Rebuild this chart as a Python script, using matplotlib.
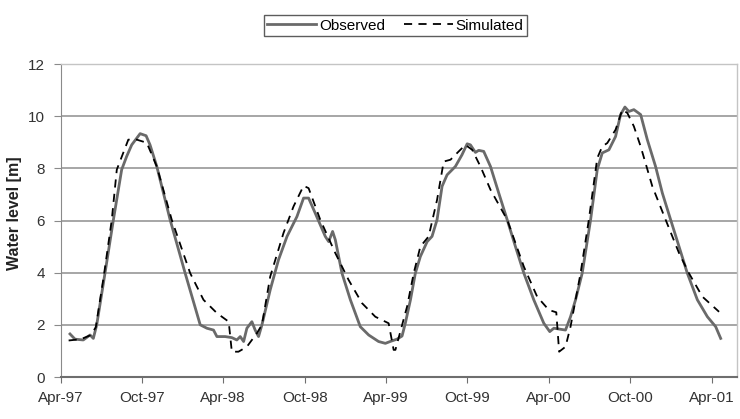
import numpy as np
import pandas as pd
import matplotlib
matplotlib.use("Agg")
import matplotlib.pyplot as plt

plt.rcParams['font.family'] = ['Liberation Sans', 'DejaVu Sans']

# months since Apr-97 and water level [m]
obs_month = [0.7, 1.07, 1.68, 2.18, 2.42, 2.67, 3.28, 3.9, 4.51, 4.88, 5.25, 5.87, 6.31, 6.6,
             7.1, 8.08, 9.19, 10.3, 10.79, 11.28, 11.53, 12.14, 12.63, 13.0, 13.25, 13.5,
             13.74, 14.11, 14.35, 14.6, 14.85, 15.46, 16.07, 16.7, 17.43, 17.92, 18.29, 18.78,
             19.52, 19.77, 20.06, 20.26, 20.75, 21.37, 22.1, 22.72, 23.45, 23.95, 24.3, 24.8,
             25.18, 25.42, 25.8, 26.16, 26.53, 27.03, 27.39, 27.76, 28.13, 28.5, 29.11, 29.6,
             29.98, 30.22, 30.59, 30.83, 31.2, 31.7, 32.31, 32.93, 33.54, 34.16, 34.89, 35.63,
             36.07, 36.37, 36.86, 37.23, 37.6, 37.97, 38.46, 39.08, 39.57, 39.94, 40.43, 40.92,
             41.29, 41.61, 41.9, 42.27, 42.77, 43.26, 43.87, 44.37, 44.98, 45.6, 46.21, 46.95,
             47.69, 48.3, 48.67]
obs_level = [1.65, 1.45, 1.42, 1.61, 1.48, 2.0, 3.98, 6.03, 7.95, 8.46, 8.9, 9.33, 9.25, 8.9,
             8.07, 6.03, 3.98, 2.0, 1.87, 1.8, 1.55, 1.55, 1.51, 1.42, 1.55, 1.36,
             1.87, 2.12, 1.8, 1.55, 2.0, 3.34, 4.49, 5.39, 6.15, 6.86, 6.86, 6.28,
             5.39, 5.19, 5.58, 5.26, 3.98, 2.96, 1.93, 1.61, 1.36, 1.29, 1.36, 1.45,
             1.57, 2.06, 2.96, 3.98, 4.62, 5.19, 5.39, 6.03, 7.31, 7.75, 8.07, 8.52,
             8.94, 8.9, 8.61, 8.69, 8.65, 8.07, 7.05, 6.03, 5.0, 3.98, 2.96, 2.06,
             1.74, 1.87, 1.83, 1.8, 2.31, 2.96, 3.98, 6.03, 7.95, 8.59, 8.71, 9.22,
             10.06, 10.35, 10.18, 10.25, 10.06, 9.1, 8.07, 7.05, 6.03, 5.0, 3.98, 2.96,
             2.31, 1.93, 1.48]

sim_month = [0.6, 1.5, 2.2, 2.6, 3.2, 3.78, 4.15, 5.0, 5.62, 6.36, 7.1, 8.2, 9.56, 10.54,
             11.53, 12.4, 12.63, 13.12, 13.74, 14.48, 14.85, 15.46, 16.44, 17.18, 17.92,
             18.29, 19.15, 20.26, 21.24, 22.23, 23.21, 24.19, 24.56, 24.69, 25.55, 26.04,
             26.53, 27.14, 27.76, 28.25, 28.75, 29.36, 29.85, 30.35, 30.96, 31.7, 32.93,
             34.16, 35.14, 36.0, 36.55, 36.76, 37.23, 37.6, 38.34, 38.95, 39.57, 39.94,
             40.31, 40.92, 41.42, 41.79, 42.27, 42.77, 43.63, 44.61, 45.6, 46.33, 47.32, 48.55]
sim_level = [1.4, 1.45, 1.6, 1.9, 3.9, 6.03, 7.95, 9.1, 9.1, 8.98, 8.07, 6.03, 3.98, 2.96,
             2.45, 2.12, 0.97, 0.97, 1.16, 1.68, 2.0, 3.85, 5.52, 6.54, 7.33,
             7.24, 6.03, 4.75, 3.72, 2.83, 2.31, 2.06, 1.04, 1.04, 2.7, 3.98,
             5.0, 5.39, 6.79, 8.26, 8.33, 8.65, 8.9, 8.71, 8.07, 7.18, 6.03,
             4.23, 3.08, 2.57, 2.48, 0.97, 1.16, 1.93, 3.98, 6.03, 8.39, 8.84,
             8.97, 9.48, 10.25, 10.12, 9.61, 8.84, 7.31, 6.03, 4.75, 3.98, 3.08, 2.5]

tick_labels = ['Apr-97', 'Oct-97', 'Apr-98', 'Oct-98', 'Apr-99', 'Oct-99', 'Apr-00', 'Oct-00', 'Apr-01']

start = pd.Timestamp('1997-04-01')
def to_date(m):  # months since Apr-97 -> dates
    return start + pd.to_timedelta(np.array(m) * 365.25 / 12, unit='D')

fig = plt.figure(figsize=(7.4, 4.19), dpi=100)
ax = fig.add_axes([60.5/740, 42/419, 676.5/740, 313/419])

ax.plot(to_date(obs_month), obs_level, color='#6a6a6a', lw=2.0, label='Observed',
        solid_joinstyle='round')
ax.plot(to_date(sim_month), sim_level, color='black', lw=1.3, ls=(0, (4.5, 3.5)), label='Simulated')

ax.set_ylim(0, 12)
ax.set_yticks(range(0, 13, 2))
ax.set_xlim(start, pd.Timestamp('2001-05-28'))
ticks = pd.date_range('1997-04-01', '2001-04-01', freq='6MS')
ax.set_xticks(ticks)
ax.set_xticklabels(tick_labels)

ax.grid(axis='y', color='#8e8e8e', lw=1.1)
ax.set_axisbelow(True)
for s in ['top', 'right']:
    ax.spines[s].set_color('#c4c4c4')
    ax.spines[s].set_linewidth(1.0)
ax.spines['left'].set_color('#8a8a8a')
ax.spines['bottom'].set_color('#6e6e6e')
ax.spines['bottom'].set_linewidth(1.5)
ax.tick_params(axis='y', length=5, color='#8a8a8a', labelsize=11, labelcolor='#333333', pad=6)
ax.tick_params(axis='x', length=4, color='#6e6e6e', labelsize=11, labelcolor='#333333', pad=6)

ax.set_ylabel('Water level [m]', fontsize=11.5, fontweight='bold', color='#222222')
ax.yaxis.set_label_coords(-0.057, 0.522)

leg = fig.legend(loc='center', bbox_to_anchor=(395.5/740, 1 - 25.5/419), ncol=2,
                 fontsize=11, frameon=True, fancybox=False, handlelength=3.2,
                 columnspacing=1.2, borderpad=0.25, handletextpad=0.2)
leg.get_frame().set_edgecolor('#333333')
leg.get_frame().set_linewidth(1.0)

fig.savefig('out.png', dpi=100)
